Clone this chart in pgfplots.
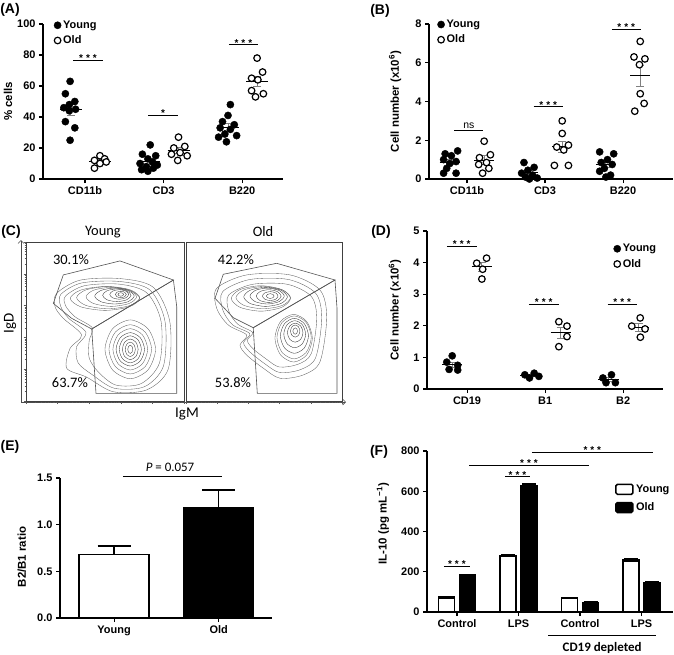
\documentclass[border=0pt]{standalone}
\usepackage{pgfplots}
\pgfplotsset{compat=1.18}
\usepackage{fontspec}
\setmainfont{Liberation Sans}
\newfontfamily\calfont{Carlito}
\usetikzlibrary{arrows.meta}
\newcommand{\fs}[1]{\fontsize{#1}{#1}\selectfont}
\pgfplotsset{
 base/.style={scale only axis, clip=false, axis lines=left,
   axis line style={line width=1.1bp,-}, tick style={line width=1.1bp,black},
   major tick length=4bp, tick align=outside,
   ticklabel style={font=\fs{11}\bfseries},
   ylabel style={font=\fs{11.5}\bfseries, anchor=center},
   legend style={draw=none, fill=none, font=\fs{11}\bfseries, inner sep=0pt, row sep=2bp},
   legend cell align=left},
 young/.style={only marks, mark=*, mark size=3.6bp, black,
   legend image code/.code={\draw[mark repeat=2,mark phase=2,##1] plot coordinates {(0bp,0bp)(4bp,0bp)(8bp,0bp)};}},
 old/.style={only marks, mark=*, mark size=3.3bp, mark options={fill=white,draw=black,line width=1.2bp},
   legend image code/.code={\draw[mark repeat=2,mark phase=2,##1] plot coordinates {(0bp,0bp)(4bp,0bp)(8bp,0bp)};}},
 meanl/.style={black, line width=1.2bp, unbounded coords=jump, forget plot},
 sem/.style={draw=none, mark=none, forget plot, error bars/.cd, y dir=both, y explicit, error mark=|,
   error bar style={draw=gray, line width=0.9bp}, error mark options={draw=gray, line width=0.9bp, mark size=4bp}, /pgfplots/.cd},
 sig/.style={black, line width=0.9bp, unbounded coords=jump, forget plot},
 cont/.style={gray!75!black, line width=0.35bp, smooth cycle, forget plot},
 contd/.style={black!80, line width=0.35bp, smooth cycle, forget plot},
 gate/.style={gray!65!black, line width=0.6bp, forget plot},
 cbox/.style={scale only axis, clip=false, xmin=0, xmax=100, ymin=0, ymax=100, xtick=\empty, ytick=\empty,
   axis line style={line width=0.7bp, black!75}},
 logt/.style={scale only axis, xmin=1, xmax=1e5, ymin=1, ymax=1e5,
   axis x line*=bottom, axis y line*=left, axis line style={draw=none},
   xticklabels={}, yticklabels={}, tick align=outside, major tick length=2.5bp, minor tick length=1.5bp,
   tick style={gray!70!black, line width=0.4bp}},
 fbar/.style={ybar, bar shift=0pt, bar width=16bp, draw=black, line width=1.5bp,
   error bars/.cd, y dir=both, y explicit, error mark=|, error bar style={line width=1.2bp, black},
   error mark options={line width=1.2bp, mark size=7bp, black}, /pgfplots/.cd},
}
\tikzset{stars/.style={font=\fs{10}\bfseries, anchor=base, inner sep=0pt, yshift=-1.5bp}}
\begin{document}
\begin{tikzpicture}
\useasboundingbox (0,0) rectangle (674bp,-655bp);

% ---------------- (A)
\begin{axis}[base, at={(43bp,-179bp)}, anchor=south west, width=240bp, height=155bp,
  xmin=-0.535, xmax=2.52, ymin=0, ymax=100,
  xtick={0,1,2}, xticklabels={CD11b,CD3,B220},
  ytick={0,20,40,60,80,100}, yticklabels={0,20,40,60,80,100},
  ylabel={\% cells}, ylabel style={at={(axis description cs:-0.146,0.5)}},
  legend style={at={(0.045,1.035)}, anchor=north west}]
\addplot[young] coordinates {(-0.19,63)(-0.25,55)(-0.13,50)(-0.2,48)(-0.27,46)(-0.12,45)(-0.2,44)(-0.25,37)(-0.13,33)(-0.19,25)
 (0.83,22)(0.73,16)(0.9,15)(0.8,13)(0.86,11)(0.7,10)(0.92,9)(0.78,8)(0.87,7)(0.72,6)(0.8,5)
 (1.85,48)(1.82,41)(1.75,37)(1.9,35)(1.72,33)(1.85,32)(1.78,29)(1.93,28)(1.7,27)(1.8,24)};
\addlegendentry{Young}
\addplot[old] coordinates {(0.19,15)(0.25,13)(0.12,12)(0.27,11)(0.19,10)(0.12,7)
 (1.19,27)(1.27,21)(1.13,20)(1.21,17)(1.1,16)(1.3,15)(1.18,12)
 (2.19,78)(2.26,69)(2.12,65)(2.2,64)(2.12,57)(2.27,55)(2.17,53)};
\addlegendentry{Old}
\addplot[sem] coordinates {(-0.18,44.6) +- (0,3.3) (0.19,11.3) +- (0,1.1) (0.82,11.1) +- (0,1.5) (1.19,18.3) +- (0,1.9) (1.82,33.4) +- (0,2.2) (2.19,63) +- (0,3.3)};
\addplot[meanl] coordinates {(-0.32,44.6)(-0.04,44.6)(0,nan)(0.05,11.3)(0.33,11.3)(0,nan)(0.68,11.1)(0.96,11.1)(0,nan)(1.05,18.3)(1.33,18.3)(0,nan)(1.68,33.4)(1.96,33.4)(0,nan)(2.05,63)(2.33,63)};
\addplot[sig] coordinates {(-0.149,76.8)(0.225,76.8)(0,nan)(0.805,41.3)(1.182,41.3)(0,nan)(1.83,86.5)(2.2,86.5)};
\node[stars] at (axis cs:0.038,76.8) {*\kern3bp*\kern3bp*};
\node[stars] at (axis cs:0.993,41.3) {*};
\node[stars] at (axis cs:2.015,86.5) {*\kern3bp*\kern3bp*};
\end{axis}

% ---------------- (B)
\begin{axis}[base, at={(429bp,-179bp)}, anchor=south west, width=244bp, height=155bp,
  xmin=-0.487, xmax=2.64, ymin=0, ymax=8,
  xtick={0,1,2}, xticklabels={CD11b,CD3,B220},
  ytick={0,2,4,6,8}, yticklabels={0,2,4,6,8},
  ylabel={Cell number (x10\textsuperscript{6})}, ylabel style={at={(axis description cs:-0.139,0.5)}},
  legend style={at={(0.034,1.04)}, anchor=north west}]
\addplot[young] coordinates {(-0.12,1.45)(-0.28,1.3)(-0.2,1.2)(-0.3,1.0)(-0.14,0.9)(-0.22,0.8)(-0.26,0.55)(-0.3,0.3)(-0.14,0.3)
 (0.73,0.85)(0.86,0.6)(0.78,0.45)(0.7,0.3)(0.84,0.2)(0.75,0.1)(0.9,0.05)(0.8,0.0)
 (1.7,1.4)(1.88,1.3)(1.8,1.0)(1.72,0.85)(1.86,0.75)(1.76,0.55)(1.7,0.4)(1.84,0.2)(1.78,0.1)};
\addlegendentry{Young}
\addplot[old] coordinates {(0.22,1.95)(0.3,1.25)(0.16,1.1)(0.25,0.85)(0.15,0.75)(0.28,0.55)(0.2,0.3)
 (1.22,3.0)(1.22,2.35)(1.3,1.75)(1.15,1.65)(1.24,1.5)(1.12,0.7)(1.3,0.7)
 (2.22,7.1)(2.14,6.3)(2.28,6.2)(2.21,5.9)(2.22,4.4)(2.27,3.9)(2.15,3.5)};
\addlegendentry{Old}
\addplot[sem] coordinates {(-0.22,0.87) +- (0,0.14) (0.22,0.96) +- (0,0.23) (0.78,0.32) +- (0,0.1) (1.22,1.66) +- (0,0.3) (1.78,0.73) +- (0,0.15) (2.22,5.33) +- (0,0.53)};
\addplot[meanl] coordinates {(-0.35,0.87)(-0.09,0.87)(0,nan)(0.09,0.96)(0.35,0.96)(0,nan)(0.65,0.32)(0.91,0.32)(0,nan)(1.09,1.66)(1.35,1.66)(0,nan)(1.65,0.73)(1.91,0.73)(0,nan)(2.09,5.33)(2.35,5.33)};
\addplot[sig] coordinates {(-0.163,2.49)(0.209,2.49)(0,nan)(0.855,3.73)(1.227,3.73)(0,nan)(1.855,7.73)(2.227,7.73)};
\node[font=\fs{10.5}, anchor=base, inner sep=0pt] at (axis cs:0.023,2.6) {ns};
\node[stars] at (axis cs:1.041,3.73) {*\kern3bp*\kern3bp*};
\node[stars] at (axis cs:2.041,7.73) {*\kern3bp*\kern3bp*};
\end{axis}

% ---------------- (C)
\begin{axis}[scale only axis, at={(21bp,-402bp)}, anchor=south west, width=325bp, height=162bp,
  xmin=0, xmax=1, ymin=0, ymax=1, axis lines=left, xtick=\empty, ytick=\empty,
  axis line style={line width=0.6bp, gray!60!black, -{Straight Barb[length=3bp,width=6bp]}}]
\end{axis}
\begin{loglogaxis}[logt, at={(26bp,-401bp)}, anchor=south west, width=158bp, height=159bp]
\end{loglogaxis}
\begin{loglogaxis}[logt, at={(186bp,-401bp)}, anchor=south west, width=156bp, height=159bp, ymajorticks=false, yminorticks=false]
\end{loglogaxis}

\begin{axis}[cbox, at={(26bp,-401bp)}, anchor=south west, width=158bp, height=159bp]
\addplot[gate] coordinates {(23.6,79.3)(59.5,88.1)(93.3,76.1)(41.6,45.3)(28.9,52)(17.3,61.4)(23.6,79.3)};
\addplot[gate] coordinates {(41.6,45.3)(93.3,76.1)(95.4,59.3)(95.4,4.8)(44.3,4.8)(41.6,45.3)};
\addplot[cont] coordinates {(19.4,67.7)(34.2,76)(59.5,77)(80.6,71.5)(91,50)(90,20)(76.4,7)(55.3,5.8)(38.4,15)(25.8,20.6)(27.9,33.1)(35.2,41.5)(23.6,52)(18.4,59.3)};
\addplot[cont] coordinates {(22,67)(35,74.2)(59,75.2)(78.5,69.8)(88,50)(87,22)(75,9)(56,8)(42,16.5)(33,24)(32,34)(38,43)(27,52)(22,59.5)};
\addplot[cont] coordinates {(25,66)(37,72.5)(59,73.5)(76.5,68)(85.5,50)(84.5,24)(73,11)(57,10)(46,18)(40,27)(40,38)(42,46)(31,53)(25,60)};
\addplot[cont] coordinates {(72,64.5)(65.4,69.75)(50,72)(34.6,69.75)(28,64.5)(34.6,59.25)(50,57)(65.4,59.25)};
\addplot[cont] coordinates {(72,65)(66,69.9)(52,72)(38,69.9)(32,65)(38,60.1)(52,58)(66,60.1)};
\addplot[cont] coordinates {(70,65.5)(65.2,69.7)(54,71.5)(42.8,69.7)(38,65.5)(42.8,61.3)(54,59.5)(65.2,61.3)};
\addplot[contd] coordinates {(68.5,66)(64.75,69.5)(56,71)(47.25,69.5)(43.5,66)(47.25,62.5)(56,61)(64.75,62.5)};
\addplot[contd] coordinates {(66.5,66.5)(63.8,69.3)(57.5,70.5)(51.2,69.3)(48.5,66.5)(51.2,63.7)(57.5,62.5)(63.8,63.7)};
\addplot[contd] coordinates {(65,67)(63.2,69.1)(59,70)(54.8,69.1)(53,67)(54.8,64.9)(59,64)(63.2,64.9)};
\addplot[contd] coordinates {(63.5,67)(62.45,68.4)(60,69)(57.55,68.4)(56.5,67)(57.55,65.6)(60,65)(62.45,65.6)};
\addplot[contd] coordinates {(61.8,67)(61.26,67.77)(60,68.1)(58.74,67.77)(58.2,67)(58.74,66.23)(60,65.9)(61.26,66.23)};
\addplot[cont] coordinates {(82,32.5)(77.2,45.45)(66,51)(54.8,45.45)(50,32.5)(54.8,19.55)(66,14)(77.2,19.55)};
\addplot[cont] coordinates {(79.5,32.5)(75.45,43.35)(66,48)(56.55,43.35)(52.5,32.5)(56.55,21.65)(66,17)(75.45,21.65)};
\addplot[cont] coordinates {(77,32.5)(73.7,41.6)(66,45.5)(58.3,41.6)(55,32.5)(58.3,23.4)(66,19.5)(73.7,23.4)};
\addplot[contd] coordinates {(75,32.5)(72.3,39.85)(66,43)(59.7,39.85)(57,32.5)(59.7,25.15)(66,22)(72.3,25.15)};
\addplot[contd] coordinates {(73,32.5)(70.9,38.45)(66,41)(61.1,38.45)(59,32.5)(61.1,26.55)(66,24)(70.9,26.55)};
\addplot[contd] coordinates {(71,32.5)(69.5,37.05)(66,39)(62.5,37.05)(61,32.5)(62.5,27.95)(66,26)(69.5,27.95)};
\addplot[contd] coordinates {(69.2,32.5)(68.24,35.65)(66,37)(63.76,35.65)(62.8,32.5)(63.76,29.35)(66,28)(68.24,29.35)};
\addplot[contd] coordinates {(67.6,32.5)(67.12,34.32)(66,35.1)(64.88,34.32)(64.4,32.5)(64.88,30.68)(66,29.9)(67.12,30.68)};
\node[font=\calfont\fs{14.5}] at (axis cs:28.5,88.7) {30.1\%};
\node[font=\calfont\fs{14.5}] at (axis cs:27.8,11.3) {63.7\%};
\end{axis}

\begin{axis}[cbox, at={(186bp,-401bp)}, anchor=south west, width=156bp, height=159bp]
\addplot[gate] coordinates {(23.9,79.7)(58.1,86.6)(95.5,76.1)(43.1,46.1)(30.3,52.4)(18.6,64.6)(23.9,79.7)};
\addplot[gate] coordinates {(43.1,46.1)(95.5,76.1)(96.8,58.3)(96.8,4.8)(45.7,4.8)(43.1,46.1)};
\addplot[cont] coordinates {(19.7,70.9)(38.9,79.3)(66.7,79.3)(85.9,69.8)(90.2,52.4)(85.9,24.7)(75.2,16.4)(60.3,14.3)(49.6,20.6)(38.9,28.9)(34.6,35.2)(38.9,41.5)(27.1,47.8)(19.7,58.3)};
\addplot[cont] coordinates {(23.5,68.8)(40.8,76.4)(65.8,76.4)(83.1,67.8)(87,52.2)(83.1,27.2)(73.5,19.8)(60.1,17.9)(50.4,23.5)(40.8,31)(36.9,36.7)(40.8,42.4)(29.8,48)(23.5,57.5)};
\addplot[cont] coordinates {(27.4,66.7)(42.7,73.4)(65,73.4)(80.3,65.8)(83.8,51.9)(80.3,29.8)(71.8,23.1)(59.8,21.4)(51.3,26.5)(42.7,33.1)(39.3,38.2)(42.7,43.2)(33.3,48.2)(27.4,56.6)};
\addplot[cont] coordinates {(67,64.5)(61.3,70.1)(48,72.5)(34.7,70.1)(29,64.5)(34.7,58.9)(48,56.5)(61.3,58.9)};
\addplot[cont] coordinates {(67,65)(61.75,69.9)(49.5,72)(37.25,69.9)(32,65)(37.25,60.1)(49.5,58)(61.75,60.1)};
\addplot[contd] coordinates {(65,65.5)(60.8,69.7)(51,71.5)(41.2,69.7)(37,65.5)(41.2,61.3)(51,59.5)(60.8,61.3)};
\addplot[contd] coordinates {(63,66)(59.7,69.5)(52,71)(44.3,69.5)(41,66)(44.3,62.5)(52,61)(59.7,62.5)};
\addplot[contd] coordinates {(61,66)(58.6,68.8)(53,70)(47.4,68.8)(45,66)(47.4,63.2)(53,62)(58.6,63.2)};
\addplot[contd] coordinates {(59,66)(57.5,67.96)(54,68.8)(50.5,67.96)(49,66)(50.5,64.04)(54,63.2)(57.5,64.04)};
\addplot[contd] coordinates {(56.5,66)(55.75,67.05)(54,67.5)(52.25,67.05)(51.5,66)(52.25,64.95)(54,64.5)(55.75,64.95)};
\addplot[cont] coordinates {(81,39.5)(77.4,50)(69,54.5)(60.6,50)(57,39.5)(60.6,29)(69,24.5)(77.4,29)};
\addplot[cont] coordinates {(80.3,40)(77,49.45)(69.3,53.5)(61.6,49.45)(58.3,40)(61.6,30.55)(69.3,26.5)(77,30.55)};
\addplot[contd] coordinates {(78.5,41)(75.8,48.7)(69.5,52)(63.2,48.7)(60.5,41)(63.2,33.3)(69.5,30)(75.8,33.3)};
\addplot[contd] coordinates {(76.7,42)(74.6,47.95)(69.7,50.5)(64.8,47.95)(62.7,42)(64.8,36.05)(69.7,33.5)(74.6,36.05)};
\addplot[contd] coordinates {(75,43)(73.5,47.2)(70,49)(66.5,47.2)(65,43)(66.5,38.8)(70,37)(73.5,38.8)};
\addplot[contd] coordinates {(73,44)(72.1,46.66)(70,47.8)(67.9,46.66)(67,44)(67.9,41.34)(70,40.2)(72.1,41.34)};
\addplot[contd] coordinates {(71.5,44)(71.05,45.4)(70,46)(68.95,45.4)(68.5,44)(68.95,42.6)(70,42)(71.05,42.6)};
\node[font=\calfont\fs{14.5}] at (axis cs:32,88.7) {42.2\%};
\node[font=\calfont\fs{14.5}] at (axis cs:30.1,11.3) {53.8\%};
\end{axis}

% ---------------- (D)
\begin{axis}[base, at={(427bp,-389bp)}, anchor=south west, width=236bp, height=158bp,
  xmin=-0.513, xmax=2.51, ymin=0, ymax=5,
  xtick={0,1,2}, xticklabels={CD19,B1,B2},
  ytick={0,1,2,3,4,5}, yticklabels={0,1,2,3,4,5},
  ylabel={Cell number (x10\textsuperscript{6})}, ylabel style={at={(axis description cs:-0.136,0.5)}},
  legend style={at={(0.79,0.93)}, anchor=north west}]
\addplot[young] coordinates {(-0.19,1.05)(-0.26,0.85)(-0.12,0.75)(-0.23,0.62)(-0.12,0.6)
 (0.86,0.5)(0.74,0.45)(0.92,0.4)(0.8,0.35)
 (1.85,0.45)(1.74,0.35)(1.78,0.2)(1.9,0.2)};
\addlegendentry{Young}
\addplot[old] coordinates {(0.124,3.98)(0.25,4.14)(0.2,3.79)(0.19,3.48)
 (1.176,2.13)(1.28,1.99)(1.28,1.66)(1.176,1.34)
 (2.218,2.25)(2.11,1.99)(2.28,1.9)(2.22,1.64)};
\addlegendentry{Old}
\addplot[sem] coordinates {(-0.19,0.77) +- (0,0.08) (0.19,3.85) +- (0,0.14) (0.81,0.43) +- (0,0.03) (1.2,1.78) +- (0,0.18) (1.81,0.3) +- (0,0.05) (2.2,1.95) +- (0,0.12)};
\addplot[meanl] coordinates {(-0.32,0.77)(-0.06,0.77)(0,nan)(0.06,3.87)(0.32,3.87)(0,nan)(0.68,0.43)(0.94,0.43)(0,nan)(1.07,1.78)(1.33,1.78)(0,nan)(1.68,0.3)(1.94,0.3)(0,nan)(2.07,1.95)(2.33,1.95)};
\addplot[sig] coordinates {(-0.26,4.52)(0.124,4.52)(0,nan)(0.791,2.69)(1.176,2.69)(0,nan)(1.8,2.69)(2.176,2.69)};
\node[stars] at (axis cs:-0.068,4.52) {*\kern3bp*\kern3bp*};
\node[stars] at (axis cs:0.983,2.69) {*\kern3bp*\kern3bp*};
\node[stars] at (axis cs:1.988,2.69) {*\kern3bp*\kern3bp*};
\end{axis}

% ---------------- (E)
\begin{axis}[base, at={(60bp,-618bp)}, anchor=south west, width=212bp, height=140bp,
  xmin=-0.517, xmax=1.51, ymin=0, ymax=1.5,
  xtick={0,1}, xticklabels={Young,Old},
  ytick={0,0.5,1,1.5}, yticklabels={0.0,0.5,1.0,1.5},
  ylabel={B2/B1 ratio}, ylabel style={at={(axis description cs:-0.18,0.436)}}]
\addplot[fill=white, draw=black, ybar, bar shift=0pt, bar width=70bp, line width=1.5bp,
  error bars/.cd, y dir=plus, y explicit, error mark=|, error bar style={line width=1.5bp,black},
  error mark options={line width=1.5bp, mark size=16.5bp, black}] coordinates {(0,0.68) +- (0,0.09)};
\addplot[fill=black, draw=black, ybar, bar shift=0pt, bar width=70bp, line width=1.5bp,
  error bars/.cd, y dir=plus, y explicit, error mark=|, error bar style={line width=1.5bp,black},
  error mark options={line width=1.5bp, mark size=16.5bp, black}] coordinates {(1,1.18) +- (0,0.19)};
\addplot[sig] coordinates {(0.085,1.52)(1.03,1.52)};
\node[font=\calfont\fs{13}, anchor=base, inner sep=0pt] at (axis cs:0.535,1.565) {\textit{P} = 0.057};
\end{axis}

% ---------------- (F)
\begin{axis}[base, at={(427bp,-612bp)}, anchor=south west, width=246bp, height=161bp,
  xmin=-0.488, xmax=3.512, ymin=0, ymax=800,
  xtick={0,1,2,3}, xticklabels={Control,LPS,Control,LPS},
  ytick={0,200,400,600,800}, yticklabels={0,200,400,600,800},
  ylabel={IL-10 (pg mL\textsuperscript{−1})}, ylabel style={at={(axis description cs:-0.179,0.547)}},
  legend style={at={(0.764,0.807)}, anchor=north west, row sep=4bp, nodes={inner sep=2.5bp}},
  legend image code/.code={\draw[#1,/tikz/.cd,line width=1.5bp,rounded corners=1.5bp] (0bp,-5bp) rectangle (17bp,5bp);}]
\addplot[fill=white, fbar] coordinates {(-0.171,74) +- (0,4) (0.829,282) +- (0,5) (1.829,70) +- (0,4) (2.829,258) +- (0,6)};
\addlegendentry{Young}
\addplot[fill=black, fbar] coordinates {(0.171,183) +- (0,5) (1.171,628) +- (0,8) (2.171,46) +- (0,4) (3.171,145) +- (0,8)};
\addlegendentry{Old}
\addplot[sig] coordinates {(-0.213,228.6)(0.208,228.6)(0,nan)(0.787,672)(1.18,672)(0,nan)(0.197,730)(2.152,730)(0,nan)(1.218,794)(3.19,794)};
\addplot[sig] coordinates {(1.48,-115)(3.24,-115)};
\node[stars] at (axis cs:-0.003,228.6) {*\kern3bp*\kern3bp*};
\node[stars] at (axis cs:0.983,672) {*\kern3bp*\kern3bp*};
\node[stars] at (axis cs:1.17,730) {*\kern3bp*\kern3bp*};
\node[stars] at (axis cs:2.2,794) {*\kern3bp*\kern3bp*};
\node[font=\calfont\fs{13}\bfseries, anchor=center] at (axis cs:2.36,-180) {CD19 depleted};
\end{axis}

% ---------------- labels
\node[font=\fs{14}\bfseries] at (10bp,-10bp) {(A)};
\node[font=\fs{14}\bfseries] at (380bp,-11bp) {(B)};
\node[font=\fs{14}\bfseries] at (11bp,-232bp) {(C)};
\node[font=\fs{14}\bfseries] at (381bp,-232bp) {(D)};
\node[font=\fs{14}\bfseries] at (10bp,-447bp) {(E)};
\node[font=\fs{14}\bfseries] at (379bp,-452bp) {(F)};
\node[font=\calfont\fs{14.5}] at (103bp,-232bp) {Young};
\node[font=\calfont\fs{14.5}] at (263bp,-232bp) {Old};
\node[font=\calfont\fs{15}, rotate=90] at (10bp,-323bp) {IgD};
\node[font=\calfont\fs{15}] at (187bp,-414bp) {IgM};
\end{tikzpicture}
\end{document}
